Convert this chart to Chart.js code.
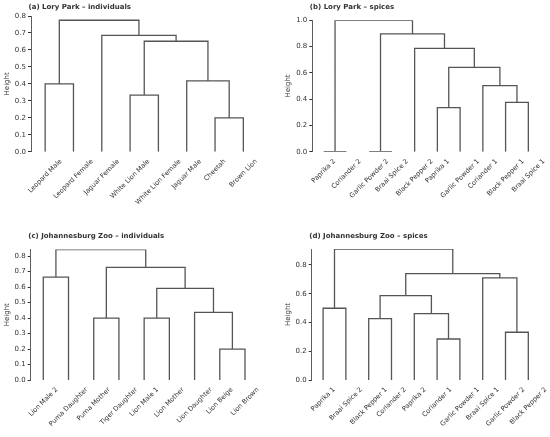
<!DOCTYPE html>
<html lang="en">
<head>
  <meta charset="UTF-8">
  <title>Dendrograms – Lory Park and Johannesburg Zoo</title>
  <script src="https://cdn.jsdelivr.net/npm/chart.js"></script>
  <style>
    body { margin: 0; background: #fff; }
    #wrap { position: relative; width: 550px; height: 437px; }
    .panel { position: absolute; }
  </style>
</head>
<body>
  <div id="wrap">
    <div class="panel" style="left:0px;top:0px;width:275px;height:218px"><canvas id="chartA"></canvas></div>
    <div class="panel" style="left:281px;top:0px;width:269px;height:218px"><canvas id="chartB"></canvas></div>
    <div class="panel" style="left:0px;top:218px;width:275px;height:219px"><canvas id="chartC"></canvas></div>
    <div class="panel" style="left:281px;top:218px;width:269px;height:219px"><canvas id="chartD"></canvas></div>
  </div>

  <script>
    // leaves left to right; merges are [childA, childB, height],
    // child ids >= number of leaves point at earlier merges (linkage style)
    const loryIndLabels = ['Leopard Male', 'Leopard Female', 'Jaguar Female', 'White Lion Male',
      'White Lion Female', 'Jaguar Male', 'Cheetah', 'Brown Lion'];
    const loryIndMerges = [[6, 7, 0.20], [3, 4, 0.334], [0, 1, 0.40], [5, 8, 0.418],
      [9, 11, 0.651], [2, 12, 0.686], [10, 13, 0.775]];
    const loryIndTicks = [0, 0.1, 0.2, 0.3, 0.4, 0.5, 0.6, 0.7, 0.8];

    const lorySpiceLabels = ['Paprika 2', 'Coriander 2', 'Garlic Powder 2', 'Braai Spice 2', 'Black Pepper 2',
      'Paprika 1', 'Garlic Powder 1', 'Coriander 1', 'Black Pepper 1', 'Braai Spice 1'];
    const lorySpiceMerges = [[0, 1, 0], [2, 3, 0], [5, 6, 0.335], [8, 9, 0.376], [7, 13, 0.503],
      [12, 14, 0.642], [4, 15, 0.787], [11, 16, 0.896], [10, 17, 1.0]];
    const lorySpiceTicks = [0, 0.2, 0.4, 0.6, 0.8, 1.0];

    const joburgIndLabels = ['Lion Male 2', 'Puma Daughter', 'Puma Mother', 'Tiger Daughter', 'Lion Male 1',
      'Lion Mother', 'Lion Daughter', 'Lion Beige', 'Lion Brown'];
    const joburgIndMerges = [[7, 8, 0.20], [2, 3, 0.40], [4, 5, 0.40], [6, 9, 0.437], [11, 12, 0.592],
      [0, 1, 0.665], [10, 13, 0.727], [14, 15, 0.843]];
    const joburgIndTicks = [0, 0.1, 0.2, 0.3, 0.4, 0.5, 0.6, 0.7, 0.8];

    const joburgSpiceLabels = ['Paprika 1', 'Braai Spice 2', 'Black Pepper 1', 'Coriander 2', 'Paprika 2',
      'Coriander 1', 'Garlic Powder 1', 'Braai Spice 1', 'Garlic Powder 2', 'Black Pepper 2'];
    const joburgSpiceMerges = [[5, 6, 0.285], [8, 9, 0.332], [2, 3, 0.427], [4, 10, 0.461], [0, 1, 0.499],
      [12, 13, 0.587], [7, 11, 0.710], [15, 16, 0.740], [14, 17, 0.911]];
    const joburgSpiceTicks = [0, 0.2, 0.4, 0.6, 0.8];

    const LINE = '#555';
    const TEXT = '#333';

    // turn the merge list into U-shaped links, with a gap point between links
    function dendroPoints(n, merges) {
      const xs = [], hs = [];
      for (let i = 0; i < n; i++) { xs.push(i); hs.push(0); }
      const pts = [];
      merges.forEach(([a, b, h]) => {
        pts.push({ x: xs[a], y: hs[a] }, { x: xs[a], y: h }, { x: xs[b], y: h }, { x: xs[b], y: hs[b] });
        pts.push({ x: xs[b], y: null });
        xs.push((xs[a] + xs[b]) / 2);
        hs.push(h);
      });
      return pts;
    }

    // panel title + 45° leaf labels, centred under each leaf like matplotlib does
    const dendroText = {
      id: 'dendroText',
      afterDraw(chart, args, opts) {
        const ctx = chart.ctx;
        const area = chart.chartArea;
        const x = chart.scales.x;
        ctx.save();
        ctx.fillStyle = TEXT;
        ctx.font = 'bold 7px "DejaVu Sans"';
        ctx.textAlign = 'left';
        ctx.textBaseline = 'middle';
        ctx.fillText(opts.title, area.left - 2.5, opts.titleY);

        ctx.font = '6.6px "DejaVu Sans"';
        ctx.textAlign = 'center';
        const h = 6.6 * 1.15;
        opts.labels.forEach((lab, i) => {
          const w = ctx.measureText(lab).width;
          const half = (w + h) / (2 * Math.SQRT2);
          ctx.save();
          ctx.translate(x.getPixelForValue(i), area.bottom + 6 + half);
          ctx.rotate(-Math.PI / 4);
          ctx.fillText(lab, 0, 0);
          ctx.restore();
        });
        ctx.restore();
      }
    };

    function makeDendro(id, p) {
      const n = p.labels.length;
      new Chart(document.getElementById(id), {
        type: 'scatter',
        data: {
          datasets: [{
            data: dendroPoints(n, p.merges),
            showLine: true,
            spanGaps: false,
            borderColor: LINE,
            borderWidth: 1.3,
            pointRadius: 0,
            tension: 0
          }]
        },
        options: {
          responsive: true,
          maintainAspectRatio: false,
          animation: false,
          layout: { padding: p.padding },
          scales: {
            x: { type: 'linear', min: -0.5, max: n - 0.5, display: false },
            y: {
              type: 'linear',
              min: 0,
              max: p.max,
              afterBuildTicks: s => { s.ticks = p.ticks.map(v => ({ value: v })); },
              afterFit: s => { s.width = p.yWidth; },
              ticks: {
                color: TEXT,
                font: { family: 'DejaVu Sans', size: 7 },
                padding: 2,
                callback: v => v.toFixed(1)
              },
              grid: { display: true, drawOnChartArea: false, drawTicks: true, tickLength: 3, color: TEXT },
              border: { display: true, color: TEXT, width: 0.8 },
              title: {
                display: true,
                text: 'Height',
                color: TEXT,
                font: { family: 'DejaVu Sans', size: 7 },
                padding: { top: 3, bottom: 0 }
              }
            }
          },
          plugins: {
            legend: { display: false },
            tooltip: { enabled: false },
            dendroText: { title: p.title, titleY: p.titleY, labels: p.labels }
          }
        },
        plugins: [dendroText]
      });
    }

    makeDendro('chartA', {
      title: '(a) Lory Park – individuals', titleY: 7,
      labels: loryIndLabels, merges: loryIndMerges, ticks: loryIndTicks, max: 0.8,
      yWidth: 31, padding: { left: 0, top: 16, right: 17.5, bottom: 66.3 }
    });
    makeDendro('chartB', {
      title: '(b) Lory Park – spices', titleY: 7,
      labels: lorySpiceLabels, merges: lorySpiceMerges, ticks: lorySpiceTicks, max: 1.0,
      yWidth: 31.3, padding: { left: 0, top: 20.3, right: 10.3, bottom: 66.3 }
    });
    makeDendro('chartC', {
      title: '(c) Johannesburg Zoo – individuals', titleY: 18.5,
      labels: joburgIndLabels, merges: joburgIndMerges, ticks: joburgIndTicks, max: 0.843,
      yWidth: 30.7, padding: { left: 0, top: 31.5, right: 17.4, bottom: 57 }
    });
    makeDendro('chartD', {
      title: '(d) Johannesburg Zoo – spices', titleY: 18,
      labels: joburgSpiceLabels, merges: joburgSpiceMerges, ticks: joburgSpiceTicks, max: 0.911,
      yWidth: 30.7, padding: { left: 0, top: 31, right: 10.3, bottom: 57 }
    });
  </script>
</body>
</html>
